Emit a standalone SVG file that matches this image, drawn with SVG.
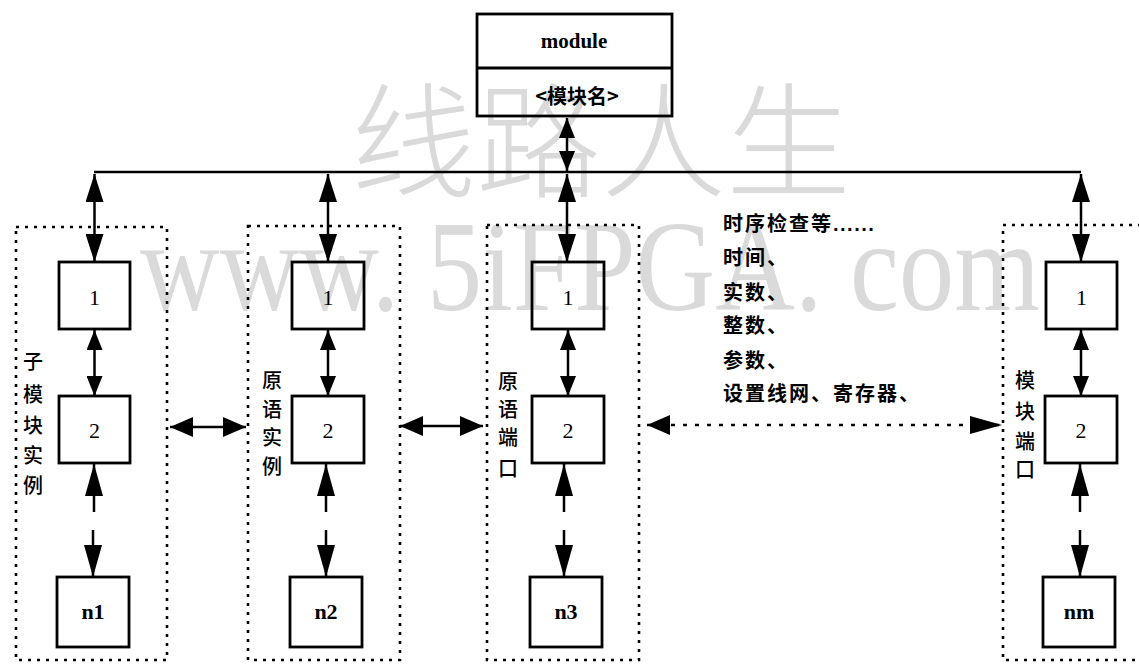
<svg xmlns="http://www.w3.org/2000/svg" width="1139" height="664" viewBox="0 0 1139 664">
<style>
.wm{fill:#dadada}
.box{fill:none;stroke:#000;stroke-width:2.8}
.grp{fill:none;stroke:#000;stroke-width:2.6;stroke-dasharray:3 6}
.ln{stroke:#000;stroke-width:2.5;fill:none}
.dl{stroke:#000;stroke-width:2.5;fill:none;stroke-dasharray:4 8}
.num{font-family:'Liberation Serif',serif;font-size:22px;text-anchor:middle}
.nb{font-family:'Liberation Serif',serif;font-size:22px;font-weight:bold;text-anchor:middle}
.cj{font-family:'Noto Sans CJK SC',sans-serif;font-size:20px;font-weight:bold}
.lab{font-family:'Noto Sans CJK SC',sans-serif;font-size:20px;font-weight:500;text-anchor:middle}
</style>
<defs>
<marker id="hb" markerUnits="userSpaceOnUse" markerWidth="28" markerHeight="18" viewBox="0 0 28 18" refX="28" refY="9" orient="auto-start-reverse"><path d="M0,0L28,9L0,18z"/></marker>
<marker id="hs" markerUnits="userSpaceOnUse" markerWidth="20" markerHeight="16" viewBox="0 0 20 16" refX="20" refY="8" orient="auto-start-reverse"><path d="M0,0L20,8L0,16z"/></marker>
<marker id="hn" markerUnits="userSpaceOnUse" markerWidth="32" markerHeight="18" viewBox="0 0 32 18" refX="32" refY="9" orient="auto-start-reverse"><path d="M0,0L32,9L0,18z"/></marker>
<marker id="hh" markerUnits="userSpaceOnUse" markerWidth="23" markerHeight="20" viewBox="0 0 23 20" refX="23" refY="10" orient="auto-start-reverse"><path d="M0,0L23,10L0,20z"/></marker>
</defs>

<g id="watermark">
<text class="wm" x="601" y="188" font-family="'Noto Sans CJK SC',sans-serif" font-weight="300" font-size="125" text-anchor="middle">线路人生</text>
<text class="wm" x="140" y="310" font-family="'Liberation Serif',serif" font-size="130" textLength="900" lengthAdjust="spacingAndGlyphs">www. 5iFPGA. com</text>
</g>

<g id="module">
<rect class="box" x="477" y="14" width="195" height="102"/>
<line class="box" x1="477" y1="68" x2="672" y2="68"/>
<text x="574" y="48" font-family="'Liberation Serif',serif" font-size="21" font-weight="bold" text-anchor="middle">module</text>
<text x="577" y="104" font-family="'Noto Sans CJK SC',sans-serif" font-size="20" font-weight="bold" text-anchor="middle">&lt;模块名&gt;</text>
</g>

<g id="group1">
<rect class="grp" x="16" y="227" width="151" height="433"/>
<text class="lab" x="33"><tspan x="33" y="369">子</tspan><tspan x="33" y="402">模</tspan><tspan x="33" y="433">块</tspan><tspan x="33" y="463">实</tspan><tspan x="33" y="493">例</tspan></text>
</g>
<g id="g1b1"><rect class="box" x="59" y="262" width="71" height="67"/><text class="num" x="94.5" y="305">1</text></g>
<g id="g1b2"><rect class="box" x="59" y="396" width="71" height="67"/><text class="num" x="94.5" y="438">2</text></g>
<g id="g1bn"><rect class="box" x="57" y="577" width="72" height="70"/><text class="nb" x="93" y="619">n1</text></g>

<g id="group2">
<rect class="grp" x="248" y="226" width="152" height="434"/>
<text class="lab" x="272"><tspan x="272" y="388">原</tspan><tspan x="272" y="417">语</tspan><tspan x="272" y="445">实</tspan><tspan x="272" y="474">例</tspan></text>
</g>
<g id="g2b1"><rect class="box" x="292" y="262" width="72" height="67"/><text class="num" x="328" y="305">1</text></g>
<g id="g2b2"><rect class="box" x="292" y="396" width="72" height="67"/><text class="num" x="328" y="438">2</text></g>
<g id="g2bn"><rect class="box" x="290" y="577" width="72" height="70"/><text class="nb" x="326" y="619">n2</text></g>

<g id="group3">
<rect class="grp" x="487" y="225" width="152" height="435"/>
<text class="lab" x="508"><tspan x="508" y="389">原</tspan><tspan x="508" y="417">语</tspan><tspan x="508" y="445">端</tspan><tspan x="508" y="476">口</tspan></text>
</g>
<g id="g3b1"><rect class="box" x="532" y="262" width="72" height="67"/><text class="num" x="568" y="305">1</text></g>
<g id="g3b2"><rect class="box" x="532" y="396" width="72" height="67"/><text class="num" x="568" y="438">2</text></g>
<g id="g3bn"><rect class="box" x="530" y="577" width="72" height="70"/><text class="nb" x="566" y="619">n3</text></g>

<g id="group4">
<rect class="grp" x="1003" y="225" width="150" height="435"/>
<text class="lab" x="1025"><tspan x="1025" y="388">模</tspan><tspan x="1025" y="419">块</tspan><tspan x="1025" y="449">端</tspan><tspan x="1025" y="477">口</tspan></text>
</g>
<g id="g4b1"><rect class="box" x="1046" y="262" width="71" height="67"/><text class="num" x="1081.5" y="305">1</text></g>
<g id="g4b2"><rect class="box" x="1045" y="396" width="72" height="67"/><text class="num" x="1081" y="438">2</text></g>
<g id="g4bn"><rect class="box" x="1043" y="577" width="72" height="70"/><text class="nb" x="1079" y="619">nm</text></g>

<g id="notes">
<text class="cj" x="723" y="231" letter-spacing="2">时序检查等<tspan font-family="'Liberation Sans',sans-serif" letter-spacing="1.5">......</tspan></text>
<text class="cj" x="723" y="265" letter-spacing="2">时间、</text>
<text class="cj" x="723" y="300" letter-spacing="2">实数、</text>
<text class="cj" x="723" y="333" letter-spacing="2">整数、</text>
<text class="cj" x="723" y="368" letter-spacing="2">参数、</text>
<text class="cj" x="723" y="401" letter-spacing="2">设置线网、寄存器、</text>
</g>

<g id="connectors">
<line class="ln" x1="94" y1="172" x2="1081" y2="172"/>
<line class="ln" x1="567" y1="118" x2="567" y2="171" marker-start="url(#hs)" marker-end="url(#hs)"/>
<line class="ln" x1="94.5" y1="174" x2="94.5" y2="262" marker-start="url(#hb)" marker-end="url(#hb)"/>
<line class="ln" x1="328" y1="174" x2="328" y2="262" marker-start="url(#hb)" marker-end="url(#hb)"/>
<line class="ln" x1="567" y1="174" x2="567" y2="262" marker-start="url(#hb)" marker-end="url(#hb)"/>
<line class="ln" x1="1081" y1="174" x2="1081" y2="262" marker-start="url(#hb)" marker-end="url(#hb)"/>
<line class="ln" x1="94.5" y1="330" x2="94.5" y2="396" marker-start="url(#hs)" marker-end="url(#hs)"/>
<line class="ln" x1="328" y1="330" x2="328" y2="396" marker-start="url(#hs)" marker-end="url(#hs)"/>
<line class="ln" x1="568" y1="330" x2="568" y2="396" marker-start="url(#hs)" marker-end="url(#hs)"/>
<line class="ln" x1="1081" y1="330" x2="1081" y2="396" marker-start="url(#hs)" marker-end="url(#hs)"/>
<line class="ln" x1="94" y1="464" x2="94" y2="512" marker-start="url(#hn)"/>
<line class="ln" x1="93" y1="530" x2="93" y2="577" marker-end="url(#hn)"/>
<line class="ln" x1="326" y1="464" x2="326" y2="512" marker-start="url(#hn)"/>
<line class="ln" x1="326" y1="530" x2="326" y2="577" marker-end="url(#hn)"/>
<line class="ln" x1="564" y1="464" x2="564" y2="512" marker-start="url(#hn)"/>
<line class="ln" x1="564" y1="530" x2="564" y2="577" marker-end="url(#hn)"/>
<line class="ln" x1="1080" y1="464" x2="1080" y2="512" marker-start="url(#hn)"/>
<line class="ln" x1="1080" y1="530" x2="1080" y2="577" marker-end="url(#hn)"/>
<line class="ln" x1="170" y1="427" x2="246" y2="427" marker-start="url(#hh)" marker-end="url(#hh)"/>
<line class="ln" x1="400" y1="426" x2="483" y2="426" marker-start="url(#hh)" marker-end="url(#hh)"/>
<line class="dl" x1="647" y1="425" x2="1002" y2="425" marker-start="url(#hh)" marker-end="url(#hn)"/>
</g>
</svg>
